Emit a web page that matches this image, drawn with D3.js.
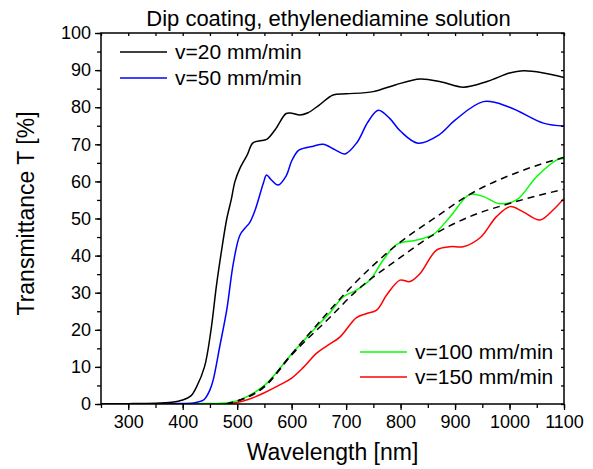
<!DOCTYPE html>
<html>
<head>
<meta charset="utf-8">
<script src="https://cdn.jsdelivr.net/npm/d3@7"></script>
<style>
  body { margin: 0; background: #fff; }
  text { font-family: "Liberation Sans", Arial, sans-serif; fill: #000; }
</style>
</head>
<body>
<div id="chart"></div>
<script>
// --- data (wavelength nm, transmittance %) ---
const wl20 = [250, 300, 350, 380, 400, 415, 425, 440, 452, 462, 472, 481, 489, 496, 505, 518, 529, 545, 555, 570, 590, 600, 615, 630, 650, 676, 700, 750, 790, 836, 875, 915, 960, 1000, 1025, 1060, 1100];
const t20  = [0.1, 0.1, 0.2, 0.5, 1.1, 2.2, 4.5, 10, 20, 32, 42, 50, 55, 60, 63.5, 67, 70.4, 71, 71.4, 74, 78.3, 78.4, 77.9, 78.5, 80.5, 83.3, 83.6, 84.2, 86, 87.6, 86.8, 85.4, 87, 89.2, 89.8, 89.3, 88];

const wl50 = [250, 350, 420, 432, 440, 450, 456, 468, 481, 493, 505, 515, 523, 533, 548, 554, 562, 575, 590, 600, 612, 621, 640, 658, 680, 698, 720, 740, 759, 780, 800, 832, 870, 900, 952, 1000, 1062, 1100];
const t50  = [0.1, 0.1, 0.3, 0.7, 1.3, 3.8, 6.5, 15.5, 25.5, 38, 45.5, 47.5, 48.9, 52.3, 59.5, 61.7, 60.5, 59, 61.5, 65.5, 68.3, 68.9, 69.5, 70, 68.5, 67.4, 70.5, 76, 79.2, 77, 73.5, 70.3, 72.5, 76.5, 81.5, 80, 75.7, 74.9];

const wl100 = [250, 400, 470, 485, 505, 550, 600, 650, 670, 695, 719, 744, 768, 793, 830, 860, 891, 927, 952, 982, 1013, 1050, 1087, 1100];
const t100  = [0.1, 0.1, 0.2, 0.4, 1.1, 5, 13.5, 21.5, 24.5, 28.9, 30.7, 33.5, 38.8, 43, 44.2, 45.7, 50.5, 56.5, 55.9, 54, 55, 61.3, 65.8, 66.2];

const wl150 = [250, 400, 480, 499, 520, 548, 579, 600, 621, 646, 664, 689, 719, 738, 756, 775, 799, 817, 836, 866, 891, 915, 946, 976, 1001, 1025, 1056, 1080, 1100];
const t150  = [0, 0, 0.1, 0.4, 1.2, 2.9, 5.2, 7, 9.8, 13.7, 15.6, 18.1, 23.3, 24.4, 25.3, 29.5, 33.4, 33, 35.2, 41.5, 42.4, 42.4, 44.8, 50.5, 53.2, 51.8, 49.6, 52.3, 55.4];

// envelope fits (dashed)
const wlUpper = [480, 500, 550, 600, 661, 707, 793, 866, 927, 1025, 1100];
const tUpper  = [0, 0.8, 4.8, 13.5, 23.8, 31.2, 42.9, 50.5, 56.5, 63, 66.5];
const wlLower = [480, 500, 550, 600, 670, 719, 793, 860, 927, 1001, 1100];
const tLower  = [0, 0.8, 4.6, 13.2, 23.3, 30.5, 38.8, 45.6, 50.5, 54.1, 57.9];

const xTicks = [300, 400, 500, 600, 700, 800, 900, 1000, 1100];
const yTicks = [0, 10, 20, 30, 40, 50, 60, 70, 80, 90, 100];

const W = 593, H = 469;
const margin = { top: 33, right: 29, bottom: 65, left: 101 };
const innerW = W - margin.left - margin.right;
const innerH = H - margin.top - margin.bottom;

const svg = d3.select('#chart').append('svg')
  .attr('width', W)
  .attr('height', H);

const g = svg.append('g')
  .attr('transform', `translate(${margin.left},${margin.top})`);

const x = d3.scaleLinear().domain([250, 1100]).range([0, innerW]);
const y = d3.scaleLinear().domain([0, 100]).range([innerH, 0]);

const zip = (a, b) => a.map((v, i) => [v, b[i]]);
const smooth = d3.line()
  .x(d => x(d[0]))
  .y(d => y(d[1]))
  .curve(d3.curveCatmullRom.alpha(0.5));
const fit = d3.line()
  .x(d => x(d[0]))
  .y(d => y(d[1]))
  .curve(d3.curveMonotoneX);

const series = [
  { wl: wl20, t: t20, color: '#000000', label: 'v=20 mm/min' },
  { wl: wl50, t: t50, color: '#0000ff', label: 'v=50 mm/min' },
  { wl: wl100, t: t100, color: '#00ff00', label: 'v=100 mm/min' },
  { wl: wl150, t: t150, color: '#ff0000', label: 'v=150 mm/min' }
];

// clip so nothing leaks out of the frame
svg.append('clipPath').attr('id', 'clip')
  .append('rect').attr('width', innerW).attr('height', innerH);

const plot = g.append('g').attr('clip-path', 'url(#clip)');

// draw order: red, green, then dashed fits, blue, black
[series[3], series[2]].forEach(s => {
  plot.append('path')
    .datum(zip(s.wl, s.t))
    .attr('d', smooth)
    .attr('fill', 'none')
    .attr('stroke', s.color)
    .attr('stroke-width', 1.5);
});

[zip(wlUpper, tUpper), zip(wlLower, tLower)].forEach(d => {
  plot.append('path')
    .datum(d)
    .attr('d', fit)
    .attr('fill', 'none')
    .attr('stroke', '#000')
    .attr('stroke-width', 1.5)
    .attr('stroke-dasharray', '7,5');
});

[series[1], series[0]].forEach(s => {
  plot.append('path')
    .datum(zip(s.wl, s.t))
    .attr('d', smooth)
    .attr('fill', 'none')
    .attr('stroke', s.color)
    .attr('stroke-width', 1.5);
});

// --- axes ---
const xMinor = d3.range(250, 1101, 50);
const yMinor = d3.range(0, 101, 5);

const xAxis = d3.axisBottom(x).tickValues(xTicks).tickFormat(d3.format('d')).tickSize(6).tickPadding(5);
const yAxis = d3.axisLeft(y).tickValues(yTicks).tickFormat(d3.format('d')).tickSize(6).tickPadding(4);

g.append('g')
  .attr('transform', `translate(0,${innerH})`)
  .call(d3.axisBottom(x).tickValues(xMinor).tickSize(4).tickFormat(''));
g.append('g')
  .call(d3.axisLeft(y).tickValues(yMinor).tickSize(4).tickFormat(''));

const xg = g.append('g')
  .attr('transform', `translate(0,${innerH})`)
  .call(xAxis);
const yg = g.append('g').call(yAxis);

// inward ticks on top and right
g.append('g')
  .call(d3.axisTop(x).tickValues(xMinor).tickSize(-3).tickFormat(''));
g.append('g')
  .attr('transform', `translate(${innerW},0)`)
  .call(d3.axisRight(y).tickValues(yMinor).tickSize(-3).tickFormat(''));

[xg, yg].forEach(a => {
  a.selectAll('text')
    .style('font-size', '18px')
    .style('font-family', '"Liberation Sans", Arial, sans-serif')
    .attr('fill', '#000');
});
g.selectAll('.tick line').attr('stroke', '#000').attr('stroke-width', 1.3);
g.selectAll('.domain').remove();

// frame
g.append('rect')
  .attr('width', innerW)
  .attr('height', innerH)
  .attr('fill', 'none')
  .attr('stroke', '#000')
  .attr('stroke-width', 1.5);

// --- titles ---
svg.append('text')
  .attr('x', margin.left + innerW / 2 - 4)
  .attr('y', 26)
  .attr('text-anchor', 'middle')
  .style('font-size', '22px')
  .text('Dip coating, ethylenediamine solution');

svg.append('text')
  .attr('x', margin.left + innerW / 2)
  .attr('y', 460)
  .attr('text-anchor', 'middle')
  .style('font-size', '23px')
  .text('Wavelength [nm]');

svg.append('text')
  .attr('transform', `translate(34,${margin.top + innerH / 2 - 5}) rotate(-90)`)
  .attr('text-anchor', 'middle')
  .style('font-size', '23px')
  .text('Transmittance T [%]');

// --- legends ---
function legend(items, x0, y0, dy) {
  items.forEach((s, i) => {
    const yy = y0 + i * dy;
    svg.append('line')
      .attr('x1', x0).attr('x2', x0 + 47)
      .attr('y1', yy).attr('y2', yy)
      .attr('stroke', s.color)
      .attr('stroke-width', 1.5);
    svg.append('text')
      .attr('x', x0 + 55)
      .attr('y', yy)
      .attr('dy', '0.35em')
      .style('font-size', '21px')
      .text(s.label);
  });
}
legend([series[0], series[1]], 120, 52, 26);
legend([series[2], series[3]], 360, 352, 25);
</script>
</body>
</html>
